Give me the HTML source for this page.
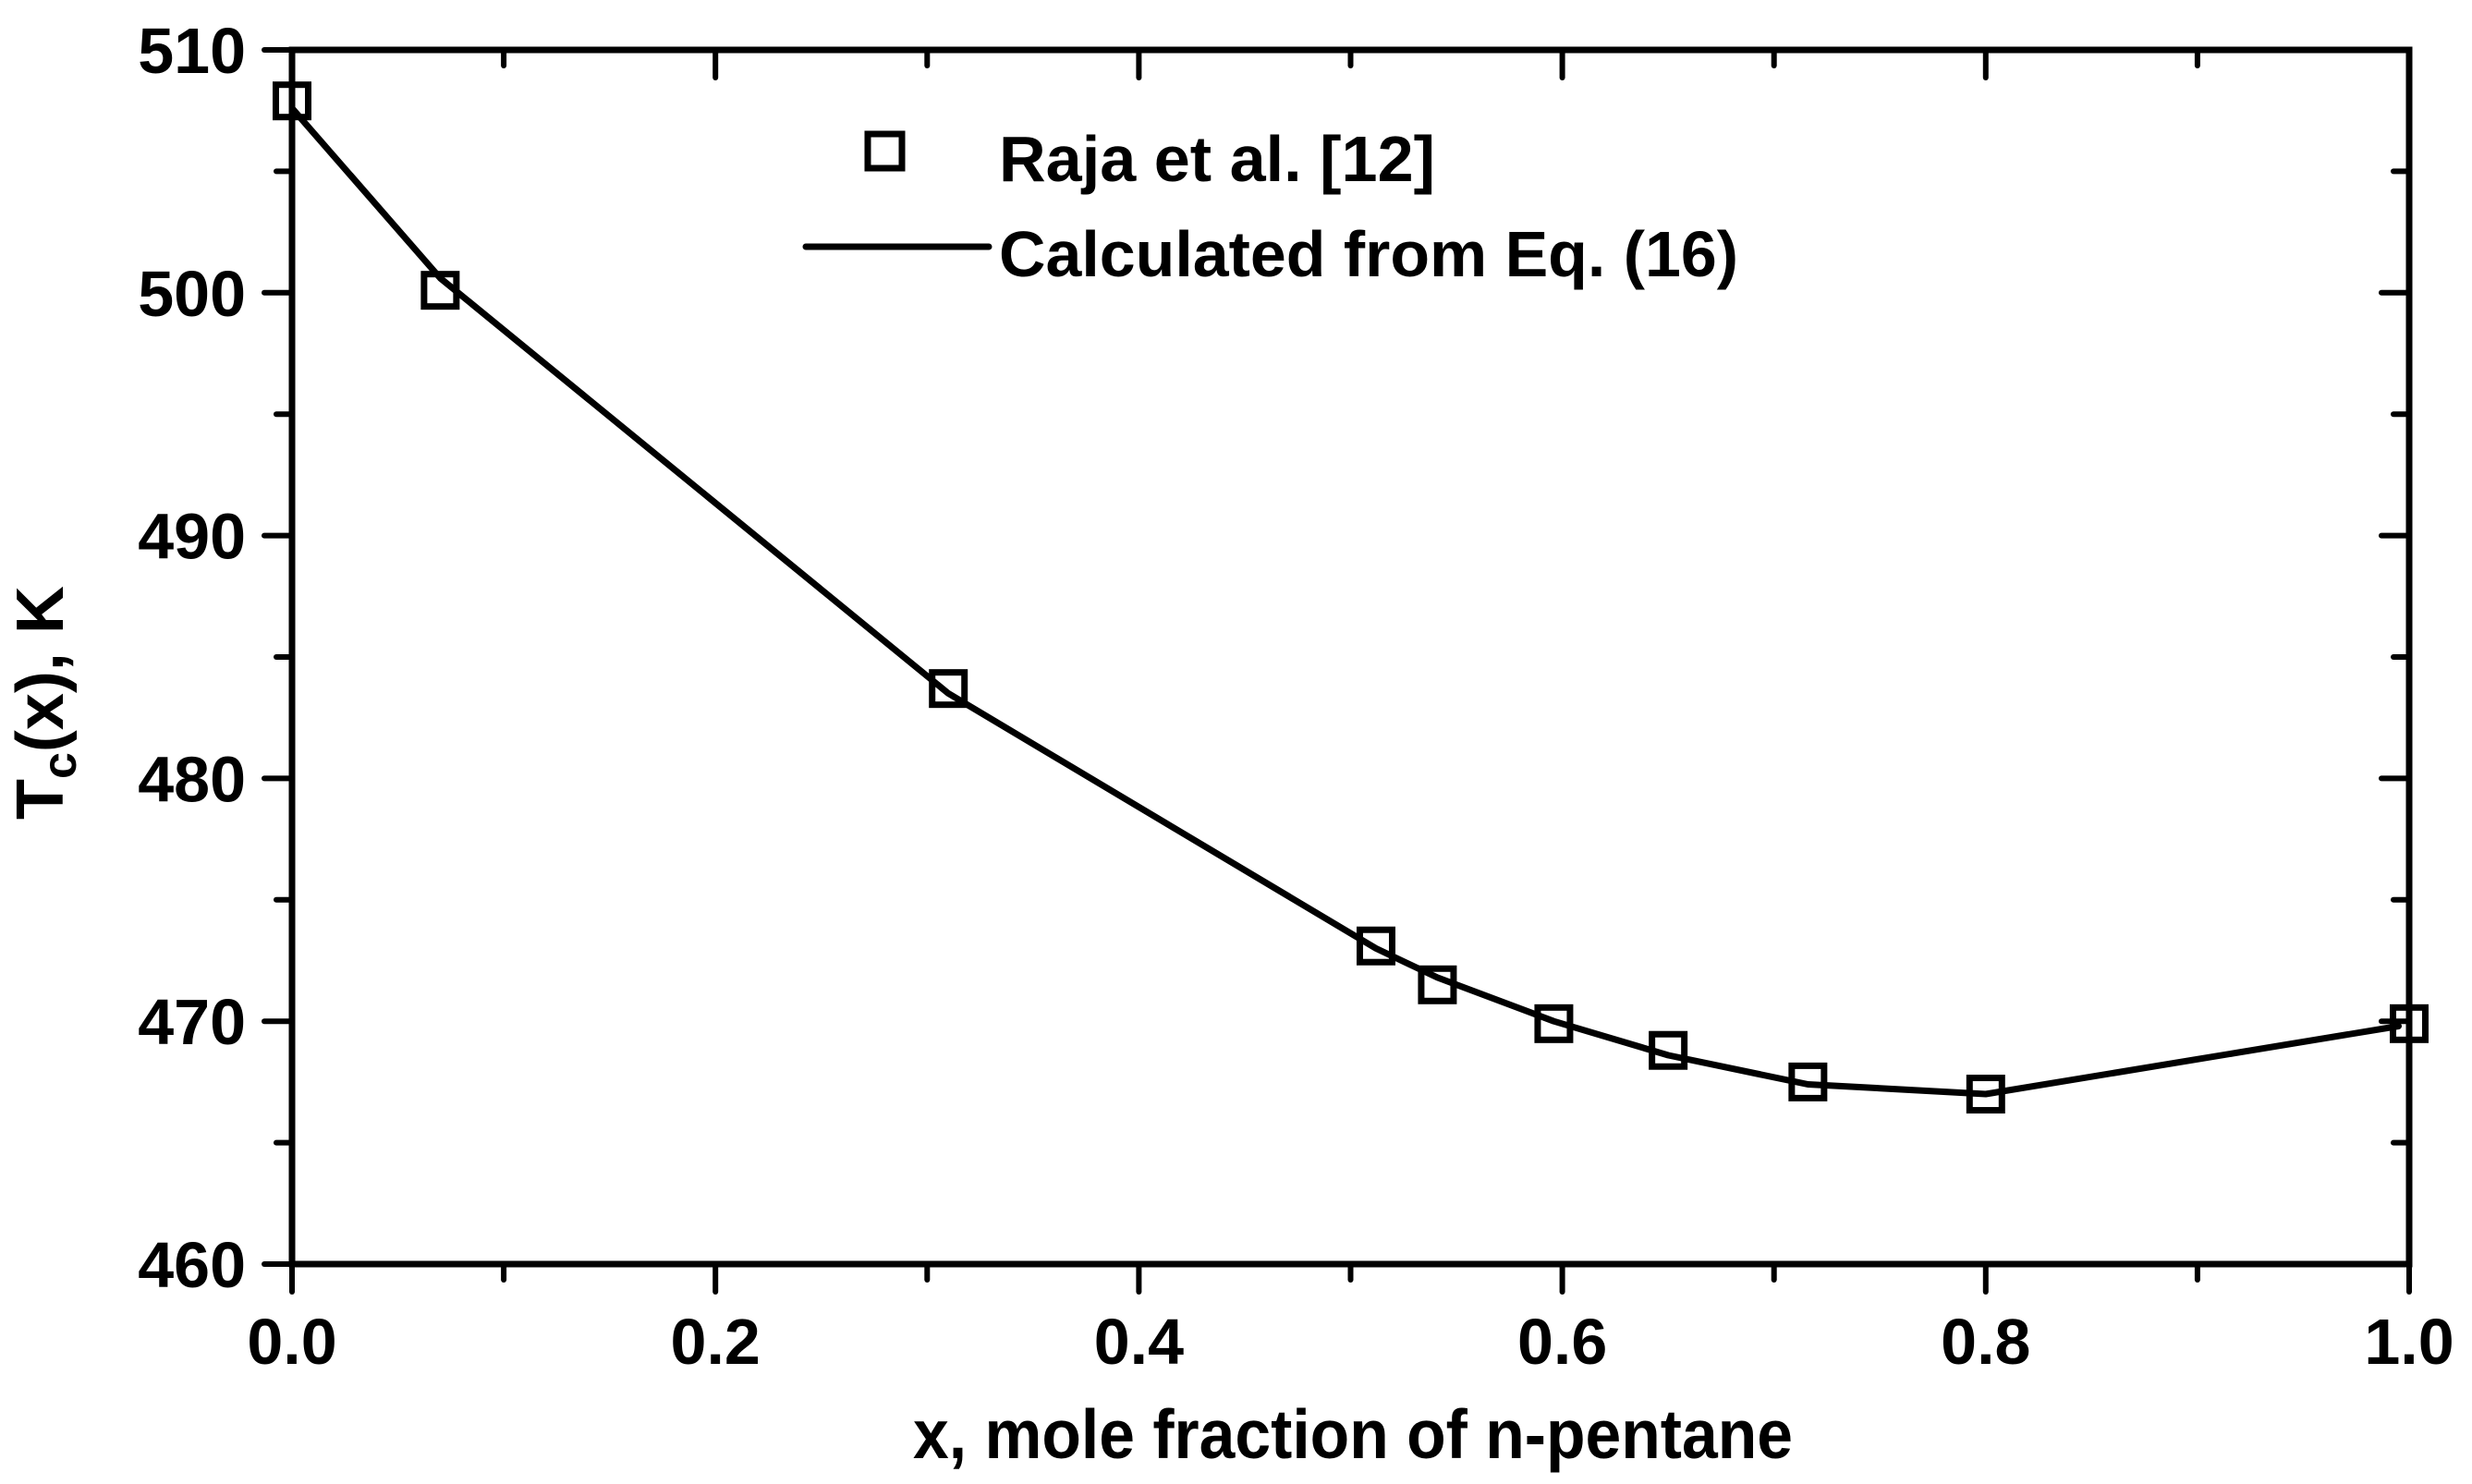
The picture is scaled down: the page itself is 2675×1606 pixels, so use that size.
<!DOCTYPE html>
<html><head><meta charset="utf-8"><style>
html,body{margin:0;padding:0;background:#fff;}
svg{display:block;}
text{font-family:"Liberation Sans",Arial,sans-serif;font-weight:bold;fill:#000;}
</style></head>
<body>
<svg id="chart" width="2675" height="1606" viewBox="0 0 2675 1606" xmlns="http://www.w3.org/2000/svg">
<rect width="2675" height="1606" fill="#fff"/>
<g id="axes"></g>
<g id="series"></g>
<text x="1464" y="1578" font-size="75" text-anchor="middle" textLength="952" lengthAdjust="spacingAndGlyphs">x, mole fraction of n-pentane</text>
<text transform="translate(68,887) rotate(-90)" font-size="72">T<tspan font-size="52" dy="14">c</tspan><tspan dy="-14">(x), K</tspan></text>
<g>
<rect x="939" y="145" width="37" height="37" fill="none" stroke="#000" stroke-width="7"/>
<text x="1081" y="196" font-size="70" textLength="472" lengthAdjust="spacingAndGlyphs">Raja et al. [12]</text>
<line x1="872" y1="267" x2="1070" y2="267" stroke="#000" stroke-width="7" stroke-linecap="round"/>
<text x="1081" y="299" font-size="70" textLength="800" lengthAdjust="spacingAndGlyphs">Calculated from Eq. (16)</text>
</g>
</svg>
<script>
const xTicks = [0.0, 0.2, 0.4, 0.6, 0.8, 1.0];
const xTickLabels = ["0.0", "0.2", "0.4", "0.6", "0.8", "1.0"];
const yTicks = [460, 470, 480, 490, 500, 510];
const yTickLabels = ["460", "470", "480", "490", "500", "510"];
const pointX = [0, 0.07, 0.31, 0.512, 0.541, 0.596, 0.65, 0.716, 0.8, 1.0];
const pointY = [507.9, 500.1, 483.7, 473.1, 471.5, 469.9, 468.8, 467.5, 467.0, 469.9];
const lineX = [0, 0.07, 0.31, 0.512, 0.541, 0.596, 0.65, 0.716, 0.8, 0.995];
const lineY = [507.6, 500.6, 483.5, 473.0, 471.8, 470.0, 468.6, 467.4, 467.0, 469.8];

const L = 316, R = 2607, T = 54, B = 1368;
const xMin = 0, xMax = 1, yMin = 460, yMax = 510;
function sx(v){ return L + (v - xMin) / (xMax - xMin) * (R - L); }
function sy(v){ return B - (v - yMin) / (yMax - yMin) * (B - T); }
const NS = "http://www.w3.org/2000/svg";
const axes = document.getElementById('axes');
const series = document.getElementById('series');
function mk(tag, attrs, parent){
  const e = document.createElementNS(NS, tag);
  for (const k in attrs) e.setAttribute(k, attrs[k]);
  parent.appendChild(e);
  return e;
}
const frame = mk('rect', {x:L, y:T, width:R-L, height:B-T, fill:'none', stroke:'#000', 'stroke-width':7}, axes);



for (let i = 0; i <= 10; i++) {
  const v = xMin + i * (xMax - xMin) / 10;
  const major = i % 2 === 0;
  const len = major ? 30 : 17;
  const x = sx(v);
  const tb = mk('line', {x1:x, y1:B, x2:x, y2:B+len, stroke:'#000', 'stroke-width':6, 'stroke-linecap':'round'}, axes);
  
  
  const tt = mk('line', {x1:x, y1:T, x2:x, y2:T+len, stroke:'#000', 'stroke-width':6, 'stroke-linecap':'round'}, axes);
  
  
}
xTicks.forEach((v, i) => {
  const t = mk('text', {x:sx(v), y:1476, 'font-size':70, 'text-anchor':'middle'}, axes);
  
  
  t.textContent = xTickLabels[i];
});
for (let i = 0; i <= 10; i++) {
  const v = yMin + i * (yMax - yMin) / 10;
  const major = i % 2 === 0;
  const len = major ? 30 : 17;
  const y = sy(v);
  const tl = mk('line', {x1:L-len, y1:y, x2:L, y2:y, stroke:'#000', 'stroke-width':6, 'stroke-linecap':'round'}, axes);
  
  
  const tr = mk('line', {x1:R-len, y1:y, x2:R, y2:y, stroke:'#000', 'stroke-width':6, 'stroke-linecap':'round'}, axes);
  
  
}
yTicks.forEach((v, i) => {
  const t = mk('text', {x:266, y:sy(v)+25, 'font-size':70, 'text-anchor':'end'}, axes);
  
  
  t.textContent = yTickLabels[i];
});
const pts = lineX.map((v, i) => sx(v).toFixed(1) + ',' + sy(lineY[i]).toFixed(1)).join(' ');
const pl = mk('polyline', {points:pts, fill:'none', stroke:'#000', 'stroke-width':7, 'stroke-linejoin':'round', 'stroke-linecap':'round'}, series);


pointX.forEach((v, i) => {
  const cx = sx(v), cy = sy(pointY[i]);
  const r = mk('rect', {x:cx-17.5, y:cy-17.5, width:35, height:35, fill:'none', stroke:'#000', 'stroke-width':7}, series);
  
  
});
</script>
</body></html>
